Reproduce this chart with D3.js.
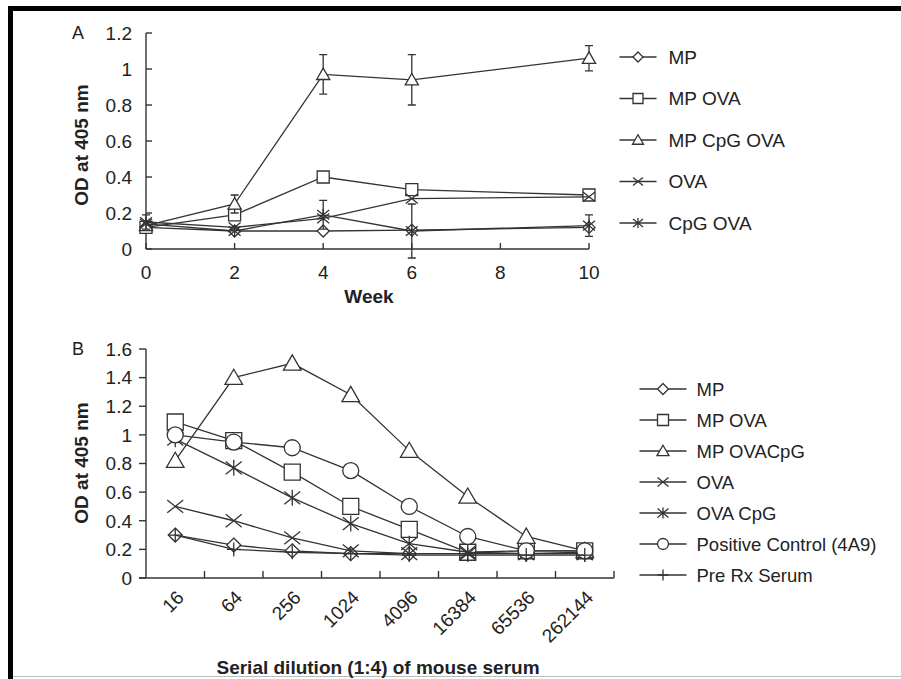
<!DOCTYPE html>
<html>
<head>
<meta charset="utf-8">
<script src="https://cdn.jsdelivr.net/npm/d3@7"></script>
<style>
	body { margin: 0; background: #fff; }
	svg { display: block; }
	text { font-family: "Liberation Sans", Arial, sans-serif; fill: #222; }
	.title { font-weight: bold; font-size: 19px; }
	.tick-label { font-size: 19px; }
</style>
</head>
<body>
<svg id="chart" width="901" height="679"></svg>
<script>
// ---- panel A data (weeks) ----
var weeks = [0, 2, 4, 6, 10];
var weekTicks = [0, 2, 4, 6, 8, 10];
var yTicksA = [0, 0.2, 0.4, 0.6, 0.8, 1, 1.2];
var namesA = ["MP", "MP OVA", "MP CpG OVA", "OVA", "CpG OVA"];
var shapesA = ["diamond", "square", "triangle", "cross", "asterisk"];
var mpA = [0.12, 0.10, 0.10, 0.105, 0.12];
var mpOvaA = [0.12, 0.19, 0.40, 0.33, 0.30];
var mpCpgOvaA = [0.13, 0.25, 0.97, 0.94, 1.06];
var ovaA = [0.15, 0.12, 0.17, 0.28, 0.29];
var cpgOvaA = [0.14, 0.10, 0.19, 0.10, 0.13];
var errMpCpgOvaA = [0, 0.05, 0.11, 0.14, 0.07];
var errOvaA = [0.04, 0, 0, 0, 0];
var errCpgOvaA = [0, 0, 0.08, 0.15, 0.06];

// ---- panel B data (serial dilution) ----
var dilutions = ["16", "64", "256", "1024", "4096", "16384", "65536", "262144"];
var yTicksB = [0, 0.2, 0.4, 0.6, 0.8, 1, 1.2, 1.4, 1.6];
var namesB = ["MP", "MP OVA", "MP OVACpG", "OVA", "OVA CpG", "Positive Control (4A9)", "Pre Rx Serum"];
var shapesB = ["diamond", "square", "triangle", "cross", "asterisk", "circle", "plus"];
var mpB = [0.30, 0.23, 0.19, 0.17, 0.17, 0.17, 0.17, 0.18];
var mpOvaB = [1.09, 0.96, 0.74, 0.50, 0.34, 0.18, 0.19, 0.19];
var mpOvaCpgB = [0.82, 1.40, 1.50, 1.28, 0.89, 0.57, 0.29, 0.19];
var ovaB = [0.50, 0.40, 0.28, 0.19, 0.17, 0.17, 0.17, 0.17];
var ovaCpgB = [0.97, 0.77, 0.56, 0.38, 0.24, 0.18, 0.17, 0.17];
var posCtrlB = [1.00, 0.95, 0.91, 0.75, 0.50, 0.29, 0.19, 0.19];
var preRxB = [0.30, 0.20, 0.18, 0.17, 0.16, 0.16, 0.16, 0.16];

var INK = "#333";
var svg = d3.select("#chart");

// frame: heavy black on top and left, faint line along the bottom
svg.append("path")
	.attr("d", "M10.5,679 V8.5 H901")
	.attr("fill", "none")
	.attr("stroke", "#000")
	.attr("stroke-width", 5);
svg.append("line")
	.attr("x1", 13).attr("x2", 901).attr("y1", 676.5).attr("y2", 676.5)
	.attr("stroke", "#bbb");

/**
 * Path string for an open plot marker of half-size r.
 */
var markerPath = function(shape, r) {
	switch (shape) {
		case "diamond":
			return "M0," + (-r) + "L" + r + ",0L0," + r + "L" + (-r) + ",0Z";
		case "square":
			return "M" + (-r) + "," + (-r) + "H" + r + "V" + r + "H" + (-r) + "Z";
		case "triangle":
			return "M0," + (-r * 1.05) + "L" + (r * 1.1) + "," + (r * 0.85) + "H" + (-r * 1.1) + "Z";
		case "cross":
			return "M" + (-r) + "," + (-r * 0.8) + "L" + r + "," + (r * 0.8) +
				"M" + (-r) + "," + (r * 0.8) + "L" + r + "," + (-r * 0.8);
		case "asterisk":
			return "M" + (-r) + "," + (-r * 0.8) + "L" + r + "," + (r * 0.8) +
				"M" + (-r) + "," + (r * 0.8) + "L" + r + "," + (-r * 0.8) +
				"M0," + (-r) + "V" + r;
		case "plus":
			return "M0," + (-r) + "V" + r + "M" + (-r) + ",0H" + r;
		case "circle":
			return d3.arc()({innerRadius: 0, outerRadius: r, startAngle: 0, endAngle: 2 * Math.PI});
	}
};

var drawMarker = function(g, shape, r, x, y) {
	g.append("path")
		.attr("d", markerPath(shape, r))
		.attr("transform", "translate(" + [x, y] + ")")
		.attr("fill", "#fff")
		.attr("stroke", INK)
		.attr("stroke-width", 1.3);
};

var drawLegend = function(g, names, shapes, x, y0, step, r, lineLen, textGap, fontSize) {
	names.forEach(function(name, i) {
		var y = y0 + i * step;
		g.append("line")
			.attr("x1", x - lineLen / 2).attr("x2", x + lineLen / 2)
			.attr("y1", y).attr("y2", y)
			.attr("stroke", INK).attr("stroke-width", 1.3);
		drawMarker(g, shapes[i], r, x, y);
		g.append("text")
			.attr("x", x + lineLen / 2 + textGap)
			.attr("y", y)
			.attr("dy", "0.36em")
			.style("font-size", fontSize + "px")
			.text(name);
	});
};

// ================= panel A =================
var xA = d3.scaleLinear().domain([0, 10]).range([146, 589]);
var yA = d3.scaleLinear().domain([0, 1.2]).range([249, 33]);
var gA = svg.append("g");

gA.append("line").attr("x1", xA(0)).attr("x2", xA(10)).attr("y1", yA(0)).attr("y2", yA(0))
	.attr("stroke", INK).attr("stroke-width", 1.4);
gA.append("line").attr("x1", xA(0)).attr("x2", xA(0)).attr("y1", yA(0)).attr("y2", yA(1.2))
	.attr("stroke", INK).attr("stroke-width", 1.4);

weekTicks.forEach(function(t) {
	gA.append("line").attr("x1", xA(t)).attr("x2", xA(t)).attr("y1", yA(0)).attr("y2", yA(0) - 6)
		.attr("stroke", INK).attr("stroke-width", 1.4);
	gA.append("text").attr("class", "tick-label")
		.attr("x", xA(t)).attr("y", 279).attr("text-anchor", "middle").text(t);
});
yTicksA.forEach(function(t) {
	gA.append("line").attr("x1", xA(0)).attr("x2", xA(0) + 6).attr("y1", yA(t)).attr("y2", yA(t))
		.attr("stroke", INK).attr("stroke-width", 1.4);
	gA.append("text").attr("class", "tick-label")
		.attr("x", 132).attr("y", yA(t)).attr("dy", "0.36em").attr("text-anchor", "end").text(t);
});

gA.append("text").attr("x", 78).attr("y", yA(1.2)).attr("dy", "0.36em")
	.style("font-size", "18px").attr("text-anchor", "middle").text("A");
gA.append("text").attr("class", "title")
	.attr("transform", "translate(88,145) rotate(-90)").attr("text-anchor", "middle").text("OD at 405 nm");
gA.append("text").attr("class", "title")
	.attr("x", 369).attr("y", 303).attr("text-anchor", "middle").text("Week");

var seriesA = [mpA, mpOvaA, mpCpgOvaA, ovaA, cpgOvaA];
var errorsA = [null, null, errMpCpgOvaA, errOvaA, errCpgOvaA];
var lineA = d3.line().x(function(d, i) { return xA(weeks[i]); }).y(function(d) { return yA(d); });

seriesA.forEach(function(vals, s) {
	gA.append("path").datum(vals)
		.attr("d", lineA).attr("fill", "none")
		.attr("stroke", INK).attr("stroke-width", 1.3);
	if (errorsA[s]) {
		errorsA[s].forEach(function(e, i) {
			if (!e) return;
			var x = xA(weeks[i]);
			gA.append("path")
				.attr("d", "M" + (x - 4) + "," + yA(vals[i] + e) + "H" + (x + 4) +
					"M" + x + "," + yA(vals[i] + e) + "V" + yA(vals[i] - e) +
					"M" + (x - 4) + "," + yA(vals[i] - e) + "H" + (x + 4))
				.attr("fill", "none").attr("stroke", INK).attr("stroke-width", 1.3);
		});
	}
	vals.forEach(function(v, i) {
		drawMarker(gA, shapesA[s], 6, xA(weeks[i]), yA(v));
	});
});

drawLegend(svg.append("g"), namesA, shapesA, 638, 57, 41.5, 5, 37, 12, 19);

// ================= panel B =================
var xB = d3.scaleBand().domain(dilutions).range([146, 614]);
var yB = d3.scaleLinear().domain([0, 1.6]).range([578, 349]);
var gB = svg.append("g");

gB.append("line").attr("x1", 139).attr("x2", 614).attr("y1", yB(0)).attr("y2", yB(0))
	.attr("stroke", INK).attr("stroke-width", 1.4);
gB.append("line").attr("x1", 146).attr("x2", 146).attr("y1", yB(0)).attr("y2", yB(1.6))
	.attr("stroke", INK).attr("stroke-width", 1.4);

dilutions.forEach(function(d) {
	var edge = xB(d) + xB.bandwidth();
	gB.append("line").attr("x1", edge).attr("x2", edge).attr("y1", yB(0)).attr("y2", yB(0) - 7)
		.attr("stroke", INK).attr("stroke-width", 1.4);
	var cx = xB(d) + xB.bandwidth() / 2;
	gB.append("text").attr("class", "tick-label")
		.attr("text-anchor", "end")
		.attr("transform", "translate(" + [cx + 5, 594] + ") rotate(-45)")
		.attr("dy", "0.36em")
		.text(d);
});
yTicksB.forEach(function(t) {
	gB.append("line").attr("x1", 139).attr("x2", 146).attr("y1", yB(t)).attr("y2", yB(t))
		.attr("stroke", INK).attr("stroke-width", 1.4);
	gB.append("text").attr("class", "tick-label")
		.attr("x", 132).attr("y", yB(t)).attr("dy", "0.36em").attr("text-anchor", "end").text(t);
});

gB.append("text").attr("x", 78).attr("y", yB(1.6)).attr("dy", "0.36em")
	.style("font-size", "18px").attr("text-anchor", "middle").text("B");
gB.append("text").attr("class", "title")
	.attr("transform", "translate(88,463) rotate(-90)").attr("text-anchor", "middle").text("OD at 405 nm");
gB.append("text").attr("class", "title")
	.attr("x", 378).attr("y", 674).attr("text-anchor", "middle").text("Serial dilution (1:4) of mouse serum");

var seriesB = [mpB, mpOvaB, mpOvaCpgB, ovaB, ovaCpgB, posCtrlB, preRxB];
var sizeB = [7, 8, 8, 8, 8, 8, 7];
var lineB = d3.line()
	.x(function(d, i) { return xB(dilutions[i]) + xB.bandwidth() / 2; })
	.y(function(d) { return yB(d); });

seriesB.forEach(function(vals, s) {
	gB.append("path").datum(vals)
		.attr("d", lineB).attr("fill", "none")
		.attr("stroke", INK).attr("stroke-width", 1.3);
	vals.forEach(function(v, i) {
		drawMarker(gB, shapesB[s], sizeB[s], xB(dilutions[i]) + xB.bandwidth() / 2, yB(v));
	});
});

drawLegend(svg.append("g"), namesB, shapesB, 663, 389, 31, 5.5, 47, 10, 18.5);
</script>
</body>
</html>
